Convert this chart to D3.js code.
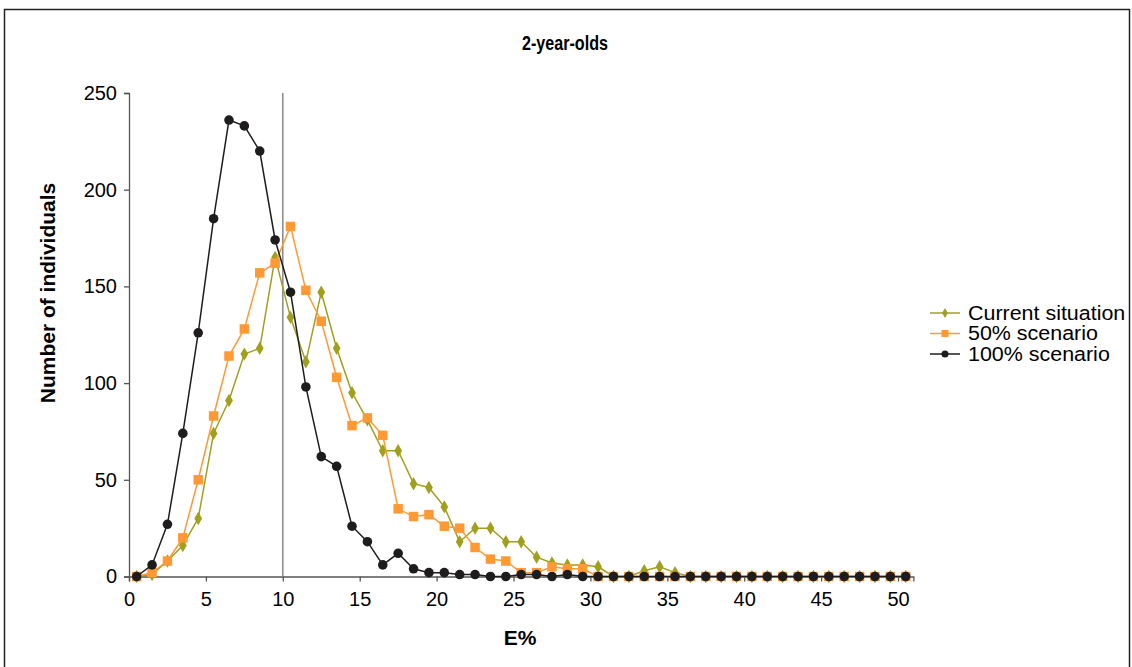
<!DOCTYPE html>
<html><head><meta charset="utf-8">
<script src="https://cdn.jsdelivr.net/npm/d3@7"></script>
<style>body{margin:0;background:#fff;} text{font-family:"Liberation Sans",Arial,sans-serif;}</style>
</head><body><svg id="c" width="1132" height="667"></svg>
<script>
const xValues = d3.range(0, 51).map(i => i + 0.5);
const current = [0,1,8,16,30,74,91,115,118,165,134,111,147,118,95,81,65,65,48,46,36,18,25,25,18,18,10,7,6,6,5,0,0,3,5,2,0,0,0,0,0,0,0,0,0,0,0,0,0,0,0];
const scen50 = [0,2,8,20,50,83,114,128,157,162,181,148,132,103,78,82,73,35,31,32,26,25,15,9,8,2,2,5,4,4,0,0,0,0,0,0,0,0,0,0,0,0,0,0,0,0,0,0,0,0,0];
const scen100 = [0,6,27,74,126,185,236,233,220,174,147,98,62,57,26,18,6,12,4,2,2,1,1,0,0,1,1,0,1,0,0,0,0,0,0,0,0,0,0,0,0,0,0,0,0,0,0,0,0,0,0];
const seriesNames = ["Current situation","50% scenario","100% scenario"];
const xTicks = [0,5,10,15,20,25,30,35,40,45,50];
const yTicks = [0,50,100,150,200,250];
const refLine = 10;

const svg = d3.select("#c");
const colors = ["#a0a01e","#ff9933","#1f1c1d"];
const shapes = [d3.symbolDiamond, d3.symbolSquare, d3.symbolCircle];
const sizes = [52, 90, 72];

svg.append("rect").attr("x",4.5).attr("y",9.5).attr("width",1125).attr("height",700)
  .attr("fill","none").attr("stroke","#222").attr("stroke-width",1.5);

const x = d3.scaleLinear().domain([0,51]).range([129, 913.4]);
const y = d3.scaleLinear().domain([0,250]).range([576.5, 93]);

svg.append("text").attr("x",565).attr("y",50).attr("text-anchor","middle")
  .attr("font-weight","bold").attr("font-size",20)
  .attr("textLength",86).attr("lengthAdjust","spacingAndGlyphs").text("2-year-olds");

const yAxis = svg.append("g").attr("transform","translate(129,0)")
  .call(d3.axisLeft(y).tickValues(yTicks).tickSize(5).tickPadding(7));
const xAxis = svg.append("g").attr("transform","translate(0,576.5)")
  .call(d3.axisBottom(x).tickValues(xTicks).tickSize(5).tickPadding(10));
[xAxis,yAxis].forEach(a=>{
  a.attr("font-size",null);
  a.select(".domain").attr("stroke","#555").attr("stroke-width",1.3);
  a.selectAll(".tick line").attr("stroke","#555").attr("stroke-width",1.3);
  a.selectAll(".tick text").attr("font-size",20).attr("fill","#000")
    .style("font-family","'Liberation Sans',Arial,sans-serif");
});

svg.append("line").attr("x1",x(refLine)).attr("x2",x(refLine)).attr("y1",y(250)).attr("y2",y(0))
  .attr("stroke","#888").attr("stroke-width",1.5);

svg.append("text").attr("transform","translate(55,293) rotate(-90)").attr("text-anchor","middle")
  .attr("font-weight","bold").attr("font-size",21).text("Number of individuals");
svg.append("text").attr("x",520).attr("y",645).attr("text-anchor","middle")
  .attr("font-weight","bold").attr("font-size",21).text("E%");

const data = [current, scen50, scen100];
const line = d3.line().x((d,i)=>x(xValues[i])).y(d=>y(d));
data.forEach((s,k)=>{
  const g = svg.append("g");
  g.append("path").datum(s).attr("d",line).attr("fill","none").attr("stroke",colors[k]).attr("stroke-width",1.5);
  g.selectAll("path.m").data(s).join("path").attr("class","m")
    .attr("transform",(d,i)=>`translate(${x(xValues[i])},${y(d)})`)
    .attr("d",d3.symbol(shapes[k], sizes[k])).attr("fill",colors[k]);
});

const lg = svg.append("g");
seriesNames.forEach((n,k)=>{
  const yy = 313 + k*20.5;
  lg.append("line").attr("x1",930).attr("x2",960).attr("y1",yy).attr("y2",yy).attr("stroke",colors[k]).attr("stroke-width",1.5);
  lg.append("path").attr("transform",`translate(945,${yy})`).attr("d",d3.symbol(shapes[k], sizes[k]*0.55)).attr("fill",colors[k]);
  lg.append("text").attr("transform",`translate(968,${yy+6.5}) scale(1.1,1)`).attr("font-size",19.5).text(n);
});
</script></body></html>
